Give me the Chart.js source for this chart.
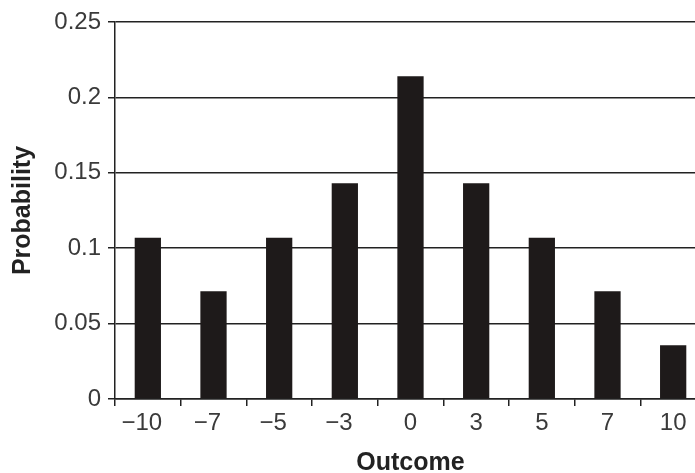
<!DOCTYPE html>
<html>
<head>
<meta charset="utf-8">
<script src="https://cdn.jsdelivr.net/npm/chart.js@4/dist/chart.umd.min.js"></script>
<style>
html,body{margin:0;padding:0;overflow:hidden;background:#fff;}
#wrap{width:706px;height:478px;}
</style>
</head>
<body>
<div id="wrap"><canvas id="c" width="706" height="478"></canvas></div>
<script>
const categories = ["\u221210", "\u22127", "\u22125", "\u22123", "0", "3", "5", "7", "10"];
const probabilities = [0.107, 0.0714, 0.107, 0.143, 0.214, 0.143, 0.107, 0.0714, 0.0357];
const yTicks = [0, 0.05, 0.1, 0.15, 0.2, 0.25];
const xTitle = "Outcome";
const yTitle = "Probability";

const tickFont = {family: "'Liberation Sans', Arial, sans-serif", size: 24};
const titleFont = {family: "'Liberation Sans', Arial, sans-serif", size: 25, weight: "bold"};

new Chart(document.getElementById('c'), {
  type: 'bar',
  data: {
    labels: categories,
    datasets: [{
      data: probabilities,
      backgroundColor: '#1e1a1a',
      borderWidth: 0,
      barPercentage: 0.4,
      categoryPercentage: 1.0
    }]
  },
  options: {
    responsive: false,
    animation: false,
    devicePixelRatio: 1,
    layout: {padding: {top: 22, left: 8, right: 0, bottom: 0}},
    plugins: {legend: {display: false}, tooltip: {enabled: false}},
    scales: {
      x: {
        grid: {display: true, drawOnChartArea: false, drawTicks: true, tickLength: 7, color: '#222', lineWidth: 1.5, offset: true},
        border: {display: true, color: '#222', width: 1.5},
        ticks: {
          color: '#3a3a3a', font: tickFont, padding: 3, maxRotation: 0, autoSkip: false,
          callback: function(v, i) {
            const lbl = this.getLabelForValue(v);
            return lbl.startsWith("\u2212") ? lbl + "\u2002" : lbl;
          }
        },
        title: {display: true, text: xTitle, color: '#222', font: titleFont, padding: {top: 4, bottom: 0}},
        afterFit: s => { s.height = 79; }
      },
      y: {
        min: 0, max: 0.25,
        afterBuildTicks: s => { s.ticks = yTicks.map(v => ({value: v})); },
        grid: {display: true, drawOnChartArea: true, drawTicks: true, tickLength: 7, color: '#222', lineWidth: 1.5},
        border: {display: true, color: '#222', width: 1.5},
        ticks: {color: '#3a3a3a', font: tickFont, padding: 7, callback: v => String(v)},
        title: {display: true, text: yTitle, color: '#222', font: titleFont, padding: {top: 0, bottom: 4}},
        afterFit: s => { s.width = 107; }
      }
    }
  }
});
</script>
</body>
</html>
